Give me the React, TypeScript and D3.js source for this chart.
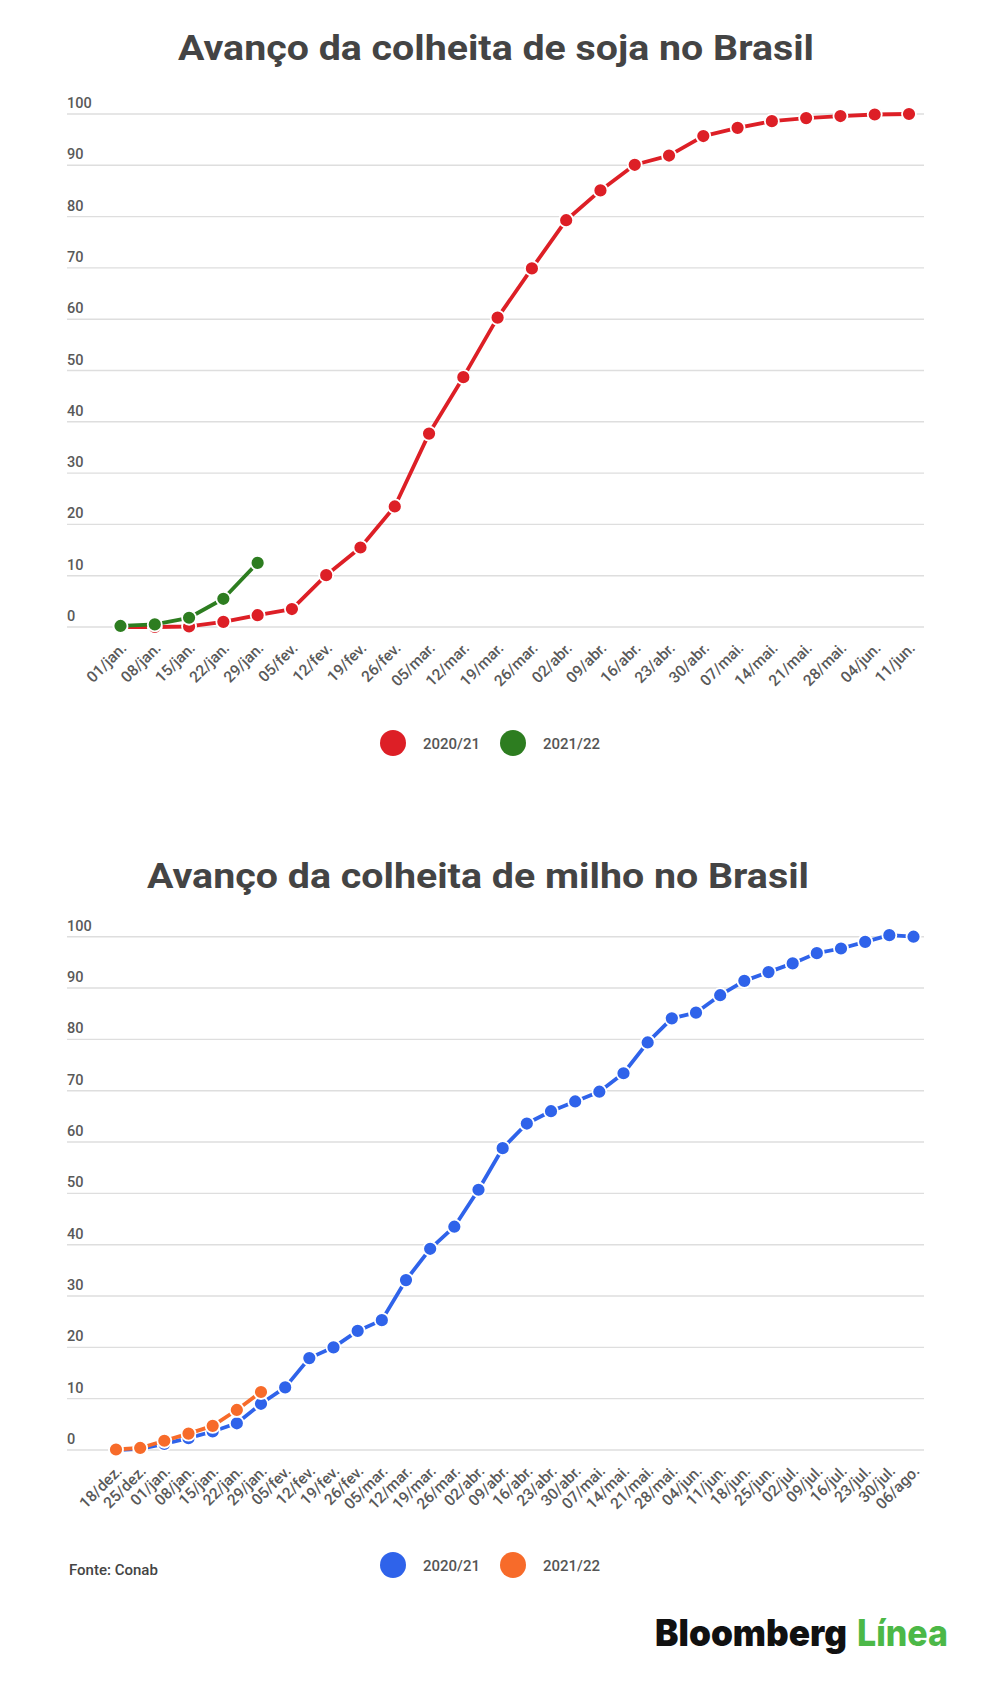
import React, { useEffect } from "react";
import * as d3 from "d3";

// ---------- DATA ----------
const sojaLabels = [
  "01/jan.", "08/jan.", "15/jan.", "22/jan.", "29/jan.", "05/fev.", "12/fev.", "19/fev.",
  "26/fev.", "05/mar.", "12/mar.", "19/mar.", "26/mar.", "02/abr.", "09/abr.", "16/abr.",
  "23/abr.", "30/abr.", "07/mai.", "14/mai.", "21/mai.", "28/mai.", "04/jun.", "11/jun.",
];
const soja2021 = [
  0, 0, 0.1, 1.0, 2.3, 3.5, 10.1, 15.5, 23.5, 37.7, 48.7, 60.3, 69.9, 79.3, 85.1, 90.1,
  91.9, 95.7, 97.3, 98.6, 99.2, 99.6, 99.9, 100,
];
const soja2122 = [0.2, 0.5, 1.8, 5.5, 12.5];

const milhoLabels = [
  "18/dez.", "25/dez.", "01/jan.", "08/jan.", "15/jan.", "22/jan.", "29/jan.", "05/fev.",
  "12/fev.", "19/fev.", "26/fev.", "05/mar.", "12/mar.", "19/mar.", "26/mar.", "02/abr.",
  "09/abr.", "16/abr.", "23/abr.", "30/abr.", "07/mai.", "14/mai.", "21/mai.", "28/mai.",
  "04/jun.", "11/jun.", "18/jun.", "25/jun.", "02/jul.", "09/jul.", "16/jul.", "23/jul.",
  "30/jul.", "06/ago.",
];
const milho2021 = [
  0, 0.2, 1.2, 2.3, 3.6, 5.2, 9.0, 12.2, 17.9, 20.0, 23.2, 25.3, 33.1, 39.2, 43.5, 50.7,
  58.8, 63.6, 66.0, 67.9, 69.8, 73.4, 79.4, 84.1, 85.2, 88.6, 91.4, 93.1, 94.8, 96.8,
  97.7, 99.0, 100.3, 100,
];
const milho2122 = [0.1, 0.4, 1.8, 3.2, 4.7, 7.8, 11.3];

const yTicks = [0, 10, 20, 30, 40, 50, 60, 70, 80, 90, 100];
const seasons = ["2020/21", "2021/22"];

const FONT = "Roboto, 'Noto Sans', Arial, sans-serif";

type Series = { values: number[]; color: string };

function LineChart(props: {
  title: string;
  titleX: number;
  titleY: number;
  titleLen: number;
  labels: string[];
  series: Series[];
  x0: number;
  x1: number;
  yTop: number;
  yBottom: number;
  legendY: number;
}) {
  const { labels, series } = props;
  const x = d3.scalePoint<string>().domain(labels).range([props.x0, props.x1]);
  const y = d3.scaleLinear().domain([0, 100]).range([props.yBottom, props.yTop]);
  const gridX0 = 67;
  const gridX1 = 924;
  return (
    <g>
      <text
        x={props.titleX}
        y={props.titleY}
        textAnchor="middle"
        fontFamily={FONT}
        fontWeight={700}
        fontSize={35}
        fill="#444"
        textLength={props.titleLen}
        lengthAdjust="spacingAndGlyphs"
      >
        {props.title}
      </text>
      {yTicks.map((t) => (
        <g key={t}>
          <line x1={gridX0} x2={gridX1} y1={y(t)} y2={y(t)} stroke="#dedede" strokeWidth={1.4} />
          <text x={gridX0} y={y(t) - 6} fontFamily={FONT} fontSize={14.5} fontWeight={500} fill="#595959">
            {t}
          </text>
        </g>
      ))}
      {labels.map((l) => {
        const px = (x(l) as number) + 7;
        const py = props.yBottom + 22;
        return (
          <text
            key={l}
            x={px}
            y={py}
            transform={`rotate(-45 ${px} ${py})`}
            textAnchor="end"
            fontFamily={FONT}
            fontSize={15.5}
            fontWeight={500}
            fill="#595959"
          >
            {l}
          </text>
        );
      })}
      {series.map((s, si) => {
        const line = d3
          .line<number>()
          .x((_, i) => x(labels[i]) as number)
          .y((d) => y(d));
        return (
          <g key={si}>
            <path d={line(s.values) || ""} fill="none" stroke={s.color} strokeWidth={3.8} strokeLinejoin="round" />
            {s.values.map((v, i) => (
              <circle key={i} cx={x(labels[i]) as number} cy={y(v)} r={7} fill={s.color} stroke="#fff" strokeWidth={1.8} />
            ))}
          </g>
        );
      })}
      {series.map((s, si) => (
        <g key={"lg" + si}>
          <circle cx={393 + si * 120} cy={props.legendY} r={13} fill={s.color} />
          <text
            x={423 + si * 120}
            y={props.legendY + 6}
            fontFamily={FONT}
            fontSize={15}
            fontWeight={500}
            fill="#555"
          >
            {seasons[si]}
          </text>
        </g>
      ))}
    </g>
  );
}

export default function App() {
  useEffect(() => {
    document.body.style.margin = "0";
  }, []);
  return (
    <svg width={1000} height={1684} viewBox="0 0 1000 1684" style={{ display: "block", background: "#fff" }}>
      <rect width={1000} height={1684} fill="#fff" />
      <LineChart
        title="Avanço da colheita de soja no Brasil"
        titleX={496}
        titleY={60}
        titleLen={636}
        labels={sojaLabels}
        series={[
          { values: soja2021, color: "#dd1f26" },
          { values: soja2122, color: "#2d7d20" },
        ]}
        x0={120.5}
        x1={909}
        yTop={114}
        yBottom={627}
        legendY={743}
      />
      <LineChart
        title="Avanço da colheita de milho no Brasil"
        titleX={478}
        titleY={888}
        titleLen={662}
        labels={milhoLabels}
        series={[
          { values: milho2021, color: "#2f63ea" },
          { values: milho2122, color: "#f76b2a" },
        ]}
        x0={116}
        x1={913.5}
        yTop={936.7}
        yBottom={1450}
        legendY={1565}
      />
      <text x={69} y={1575} fontFamily={FONT} fontSize={15} fontWeight={500} fill="#444">
        Fonte: Conab
      </text>
      <text
        x={655}
        y={1646}
        fontFamily="Inter, Roboto, sans-serif"
        fontWeight={900}
        fontSize={37}
        fill="#111"
        textLength={192}
        lengthAdjust="spacingAndGlyphs"
      >
        Bloomberg
      </text>
      <text
        x={857}
        y={1646}
        fontFamily="Inter, Roboto, sans-serif"
        fontWeight={800}
        fontSize={37}
        fill="#4cb847"
        textLength={91}
        lengthAdjust="spacingAndGlyphs"
      >
        Línea
      </text>
    </svg>
  );
}
